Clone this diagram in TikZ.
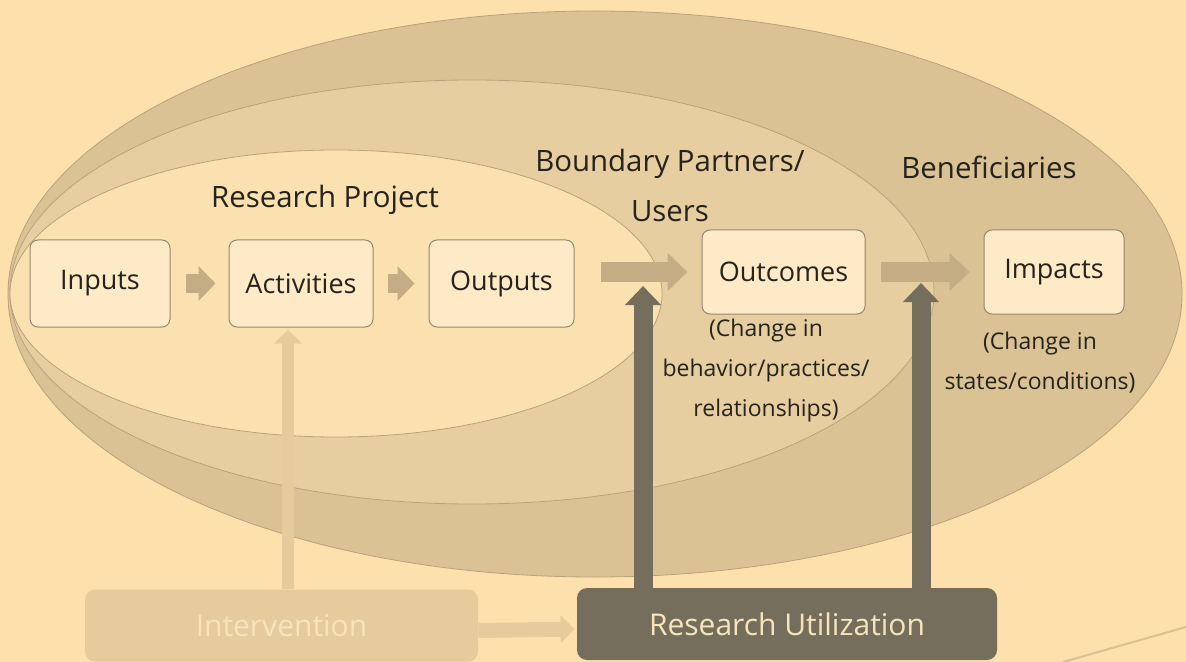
\documentclass[tikz,border=0pt]{standalone}
\usepackage{fontspec}
\setmainfont{Open Sans}
\usetikzlibrary{positioning}
\usetikzlibrary{arrows.meta}
\definecolor{paper}{RGB}{253,224,171}
\definecolor{outerband}{RGB}{218,194,149}
\definecolor{midband}{RGB}{231,206,160}
\definecolor{innerfill}{RGB}{251,225,176}
\definecolor{bandline}{RGB}{185,163,124}
\definecolor{boxfill}{RGB}{254,234,198}
\definecolor{boxline}{RGB}{150,135,110}
\definecolor{arrowtan}{RGB}{196,172,132}
\definecolor{lighttan}{RGB}{230,203,157}
\definecolor{darkbrown}{RGB}{118,110,92}
\definecolor{palelabel}{RGB}{247,228,188}
\definecolor{inkgrey}{RGB}{38,34,28}

\begin{document}
\begin{tikzpicture}[x=0.5pt, y=-0.5pt, font=\fontsize{13.5}{16}\selectfont, text=inkgrey]
    \tikzstyle{stage}=[draw=boxline, fill=boxfill, rounded corners=4pt, minimum height=43.5pt, inner sep=0pt, line width=0.5pt]
    \tikzstyle{field}=[font=\fontsize{14.7}{25}\selectfont, align=center]
    \tikzstyle{note}=[align=center, inner sep=0pt, font=\fontsize{11.5}{20}\selectfont]
    \tikzstyle{smallarrow}=[draw=arrowtan, line width=9.5pt, -{Triangle[width=17pt, length=8.5pt]}]
    \tikzstyle{flowarrow}=[draw=arrowtan, line width=10pt, -{Triangle[width=18.5pt, length=10pt]}]
    \tikzstyle{usearrow}=[draw=darkbrown, line width=9.5pt, -{Triangle[width=17.5pt, length=9.5pt]}]
    \tikzstyle{introarrow}=[draw=lighttan, line width=6pt, -{Triangle[width=13.5pt, length=7pt]}]
    \tikzstyle{bottombox}=[rounded corners=5pt, inner sep=0pt, minimum height=36pt, text=palelabel, font=\fontsize{15}{17}\selectfont]

    % paper and the three nested fields
    \fill[paper] (0,0) rectangle (1186,662);
    \useasboundingbox (0,0) rectangle (1186,662);
    \filldraw[fill=outerband, draw=bandline, line width=0.4pt] (595,294) ellipse [x radius=587, y radius=283];
    \filldraw[fill=midband, draw=bandline, line width=0.4pt] (472,292) ellipse [x radius=462, y radius=212];
    \filldraw[fill=innerfill, draw=bandline, line width=0.4pt] (336,293.5) ellipse [x radius=326, y radius=143.5];

    \node[field] (projlabel) at (325,200) {Research Project};
    \node[field] (partnerlabel) at (670,185) {Boundary Partners/\\Users};
    \node[field] (benelabel) at (989,167) {Beneficiaries};

    % result chain
    \node[stage, minimum width=70pt] (inputs) at (100,283.5) {Inputs};
    \node[stage, minimum width=72pt, right=29pt of inputs] (activities) {Activities};
    \node[stage, minimum width=72.5pt, right=27.5pt of activities] (outputs) {Outputs};
    \node[stage, minimum width=81.5pt, minimum height=42pt] (outcomes) at (783.5,272) {Outcomes};
    \node[stage, minimum width=70pt, minimum height=42pt, right=59pt of outcomes] (impacts) {Impacts};

    \node[note] (outcomenote) at (766,371) {(Change in\\behavior/practices/\\relationships)};
    \node[note] (impactnote) at (1040,363) {(Change in\\states/conditions)};

    \draw[smallarrow, shorten <=7.5pt, shorten >=6.5pt] (inputs) -- (activities);
    \draw[smallarrow, shorten <=7pt, shorten >=7pt] (activities) -- (outputs);
    \draw[flowarrow, shorten <=13pt, shorten >=7pt] (outputs.east |- outcomes) -- (outcomes.west);
    \draw[flowarrow, shorten <=7.5pt, shorten >=7pt] (outcomes) -- (impacts);

    % bottom bar
    \node[bottombox, fill=lighttan, minimum width=196.5pt] (interv) at (281.5,625.5) {Intervention};
    \node[bottombox, fill=darkbrown, minimum width=210pt] (resuse) at (787,624) {Research Utilization};

    \coordinate (tipA) at (643,286);
    \coordinate (tipB) at (921,283);
    \coordinate (tipC) at ([xshift=-6.5pt, yshift=-1pt]activities.south);

    \draw[introarrow] (interv.north -| tipC) -- (tipC);
    \draw[introarrow, line width=7.5pt, shorten >=1pt] ([yshift=-2.5pt]interv.east) -- ([yshift=-2.5pt]resuse.west);
    \draw[usearrow] (resuse.north -| tipA) -- (tipA);
    \draw[usearrow] (resuse.north -| tipB) -- (tipB);

    % crease in the scan
    \draw[bandline, opacity=0.5, line width=1pt] (1063,662) -- (1186,627);
\end{tikzpicture}
\end{document}
